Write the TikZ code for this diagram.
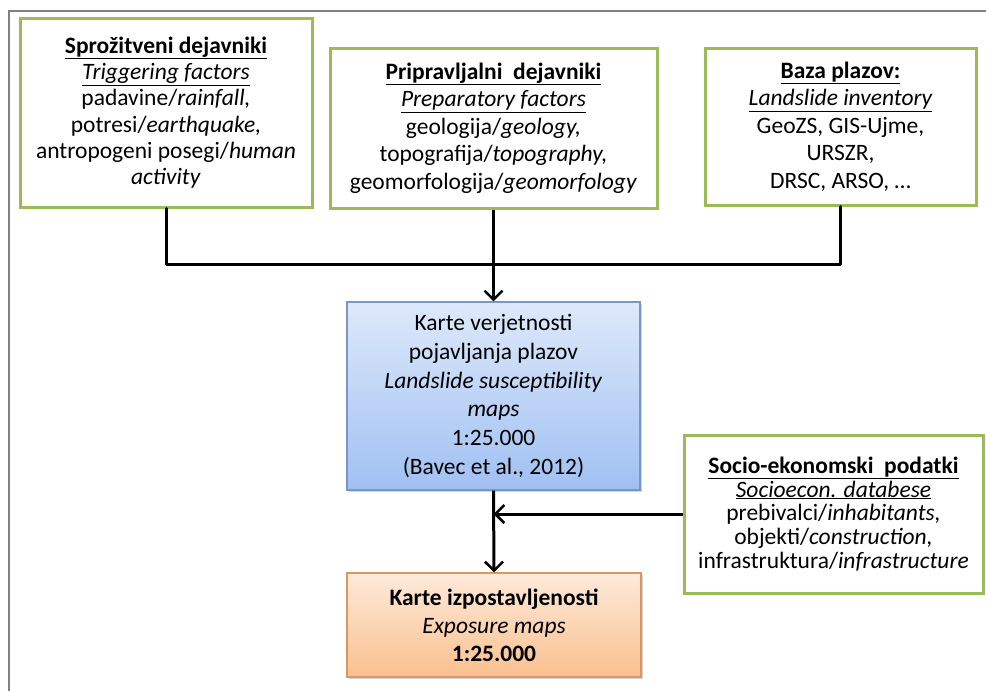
\documentclass[tikz,border=0pt]{standalone}
\usepackage{fontspec}
\setmainfont{Carlito}
\usetikzlibrary{arrows.meta,shadows}
\definecolor{olivegreen}{RGB}{155,187,89}
\definecolor{frameGray}{RGB}{128,128,128}
\definecolor{blueTop}{RGB}{222,233,250}
\definecolor{blueBot}{RGB}{160,192,242}
\definecolor{blueEdge}{RGB}{120,150,200}
\definecolor{orTop}{RGB}{253,234,218}
\definecolor{orBot}{RGB}{250,192,143}
\definecolor{orEdge}{RGB}{220,150,100}
\tikzset{
  greenbox/.style={draw=olivegreen, line width=3pt, fill=white, align=center, inner sep=0pt,
    font=\fontsize{23.5}{26.3}\selectfont},
  bluebox/.style={draw=blueEdge, line width=1.2pt, top color=blueTop, bottom color=blueBot,
    align=center, inner sep=0pt, font=\fontsize{23.5}{28.7}\selectfont,
    drop shadow={shadow xshift=1.5pt, shadow yshift=-2pt, opacity=0.35}},
  orangebox/.style={draw=orEdge, line width=1.2pt, top color=orTop, bottom color=orBot,
    align=center, inner sep=0pt, font=\fontsize{23.5}{28}\selectfont,
    drop shadow={shadow xshift=1.5pt, shadow yshift=-2pt, opacity=0.35}},
  conn/.style={line width=3pt, black},
  arr/.style={conn, -{Straight Barb[length=9pt, width=18pt, line width=2.5pt]}},
}
\begin{document}
\begin{tikzpicture}[x=1pt,y=-1pt]
\useasboundingbox (0,0) rectangle (986,691);
% outer frame
\draw[frameGray, line width=1.2pt] (9,691) -- (9,11) -- (986,11);

\node[greenbox, minimum width=292pt, minimum height=189pt] (b1) at (166,112.5)
  {\textbf{\underline{Sprožitveni dejavniki}}\\
   \textit{\underline{Triggering factors}}\\
   padavine/\textit{rainfall,}\\
   potresi/\textit{earthquake,}\\
   antropogeni posegi/\textit{human}\\
   \textit{activity}};

\node[greenbox, minimum width=327pt, minimum height=160pt, font=\fontsize{23.5}{27.5}\selectfont] (b2) at (493.5,128)
  {\textbf{\underline{Pripravljalni\ \ dejavniki}}\\
   \textit{\underline{Preparatory factors}}\\
   geologija/\textit{geology,}\\
   topografija/\textit{topography,}\\
   geomorfologija/\textit{geomorfology}};

\node[greenbox, minimum width=271pt, minimum height=157pt, font=\fontsize{23.5}{27.5}\selectfont] (b3) at (840.5,126.5)
  {\textbf{\underline{Baza plazov:}}\\
   \textit{\underline{Landslide inventory}}\\
   GeoZS, GIS-Ujme,\\
   URSZR,\\
   DRSC, ARSO, \dots};

\node[bluebox, minimum width=293pt, minimum height=188pt] (blue) at (493.5,396)
  {Karte verjetnosti\\
   pojavljanja plazov\\
   \textit{Landslide susceptibility}\\
   \textit{maps}\\
   1:25.000\\
   (Bavec et al., 2012)};

\node[orangebox, minimum width=294pt, minimum height=104pt] (orange) at (494,625)
  {\textbf{Karte izpostavljenosti}\\
   \textit{Exposure maps}\\
   \textbf{1:25.000}};

\node[greenbox, minimum width=299pt, minimum height=158pt,
  font=\fontsize{23.5}{23.8}\selectfont] (socio) at (833.5,514)
  {\textbf{\underline{Socio-ekonomski\ \ podatki}}\\
   \textit{\underline{Socioecon. databese}}\\
   prebivalci/\textit{inhabitants,}\\
   objekti/\textit{construction,}\\
   infrastruktura/\textit{infrastructure}};

\coordinate (hub) at (493.5,264);
\draw[conn, line cap=round, line join=round] (b1.south) |- (hub) -| (b3.south);
\draw[arr] (b2.south) -- (blue.north);
\draw[arr] (blue.south) -- (orange.north);
\draw[arr] (socio.west) -- (socio.west -| blue.south);
\end{tikzpicture}
\end{document}
